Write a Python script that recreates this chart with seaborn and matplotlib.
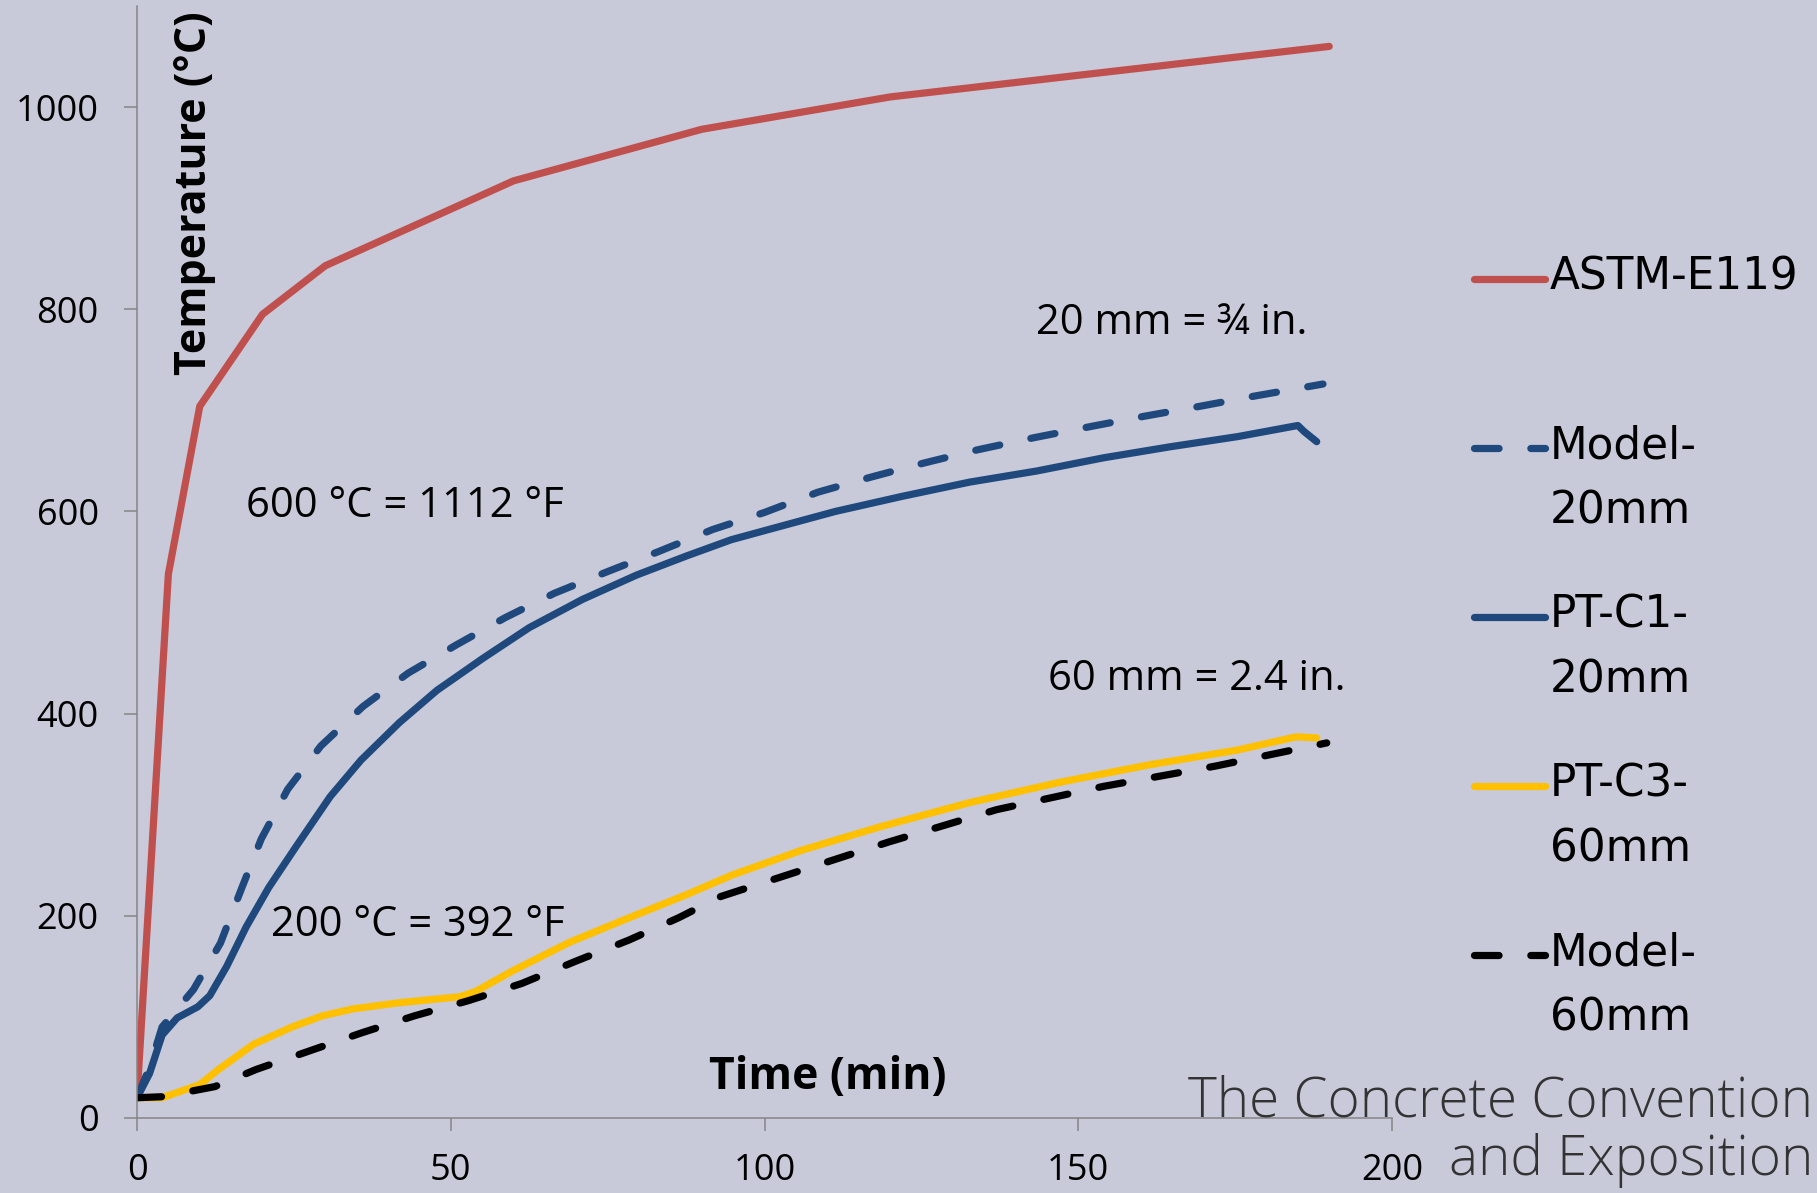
import numpy as np
import pandas as pd
import seaborn as sns
import matplotlib.pyplot as plt

# series (time in min, temperature in deg C)
series_names = ["ASTM-E119", "Model-20mm", "PT-C1-20mm", "PT-C3-60mm", "Model-60mm"]
legend_labels = ["ASTM-E119\n ", "Model-\n20mm", "PT-C1-\n20mm", "PT-C3-\n60mm", "Model-\n60mm"]

astm_t = [0, 5, 10, 20, 30, 60, 90, 120, 190]
astm_T = [20, 538, 704, 795, 843, 927, 978, 1010, 1060]

model20_t = [0, 2, 4, 9, 13.3, 16.6, 19.8, 24, 29.3, 36, 43.2, 50.9, 58.7, 66.5, 74.8, 83,
             91.7, 100, 108.5, 117, 125.5, 134, 143, 152, 160.4, 169.4, 178, 189]
model20_T = [20, 50, 90, 127, 173, 226, 276, 325, 368, 407, 440, 468, 495, 519, 540, 560,
             582, 599, 619, 634, 648, 661, 673, 684, 694, 704, 714, 726]

c1_t = [0, 2, 4, 6.4, 9.7, 11.6, 14.3, 17.4, 21, 25.3, 30.8, 35.7, 41.8, 47.8, 55.2, 62.5,
        71, 79.6, 87.6, 94.7, 100.6, 111.3, 122, 132.7, 143.4, 154, 164.7, 175.4, 185, 186, 188]
c1_T = [20, 44, 82, 99, 110, 121, 150, 189, 228, 268, 318, 354, 391, 423, 455, 485,
        513, 537, 556, 572, 582, 600, 615, 629, 640, 653, 664, 674, 685, 679, 669]

c3_t = [0, 4, 10, 13, 18.6, 24.7, 29.5, 34.5, 41.8, 51.5, 53.9, 60, 69, 78.4, 87.6, 94.7,
        106, 118.4, 132.7, 147, 161, 175.4, 184.7, 188]
c3_T = [20, 20, 33, 48, 73, 90, 101, 108, 114, 120, 125, 146, 174, 198, 221, 240,
        265, 288, 312, 332, 349, 364, 377, 376]

model60_t = [0, 4, 12.4, 19, 27.8, 35.7, 44.2, 52.8, 61.3, 69.9, 78.4, 86.3, 93,
             119.8, 137, 154, 171.8, 189.6]
model60_T = [20, 21, 31, 48, 67, 84, 101, 116, 133, 155, 176, 198, 219,
             273, 305, 328, 348, 371]

x_ticks = [0, 50, 100, 150, 200]
y_ticks = [0, 200, 400, 600, 800, 1000]

colors = {"ASTM-E119": "#C0504D", "Model-20mm": "#1F497D", "PT-C1-20mm": "#1F497D",
          "PT-C3-60mm": "#FFC000", "Model-60mm": "#000000"}
dashes = {"ASTM-E119": "", "Model-20mm": (3.4, 4.4), "PT-C1-20mm": "",
          "PT-C3-60mm": "", "Model-60mm": (3.4, 4.4)}

frames = []
for name, t, T in zip(series_names,
                      [astm_t, model20_t, c1_t, c3_t, model60_t],
                      [astm_T, model20_T, c1_T, c3_T, model60_T]):
    frames.append(pd.DataFrame({"time": t, "temp": T, "series": name}))
df = pd.concat(frames, ignore_index=True)

sns.set_style("ticks")
plt.rcParams["font.family"] = ["Open Sans", "DejaVu Sans"]
plt.rcParams["text.color"] = "black"
plt.rcParams["axes.labelcolor"] = "black"
bg = "#C8CAD9"
grey = "#868686"
lw = 5.2

fig = plt.figure(figsize=(18.17, 11.93), dpi=100, facecolor=bg)
ax = fig.add_axes([0.0754, 0.0629, 0.6907, 0.9321])
ax.set_facecolor(bg)

sns.lineplot(data=df, x="time", y="temp", hue="series", style="series",
             hue_order=series_names, style_order=series_names,
             palette=colors, dashes=dashes, estimator=None, sort=False,
             linewidth=lw, dash_capstyle="round", solid_capstyle="round",
             solid_joinstyle="round", ax=ax)
for line in ax.lines:
    line.set_linewidth(lw)

ax.set_xlim(0, 200)
ax.set_ylim(0, 1100)
ax.set_xticks(x_ticks)
ax.set_yticks(y_ticks)
for s in ["top", "right"]:
    ax.spines[s].set_visible(False)
for s in ["left", "bottom"]:
    ax.spines[s].set_color(grey)
    ax.spines[s].set_linewidth(1.1)
ax.tick_params(axis="both", colors=grey, length=9.5, width=1.1, labelsize=26,
               labelcolor="black")
ax.tick_params(axis="y", pad=18)
ax.tick_params(axis="x", pad=16)

ax.set_xlabel("Time (min)", fontsize=32, fontweight="bold")
ax.set_ylabel("Temperature (°C)", fontsize=31, fontweight="bold")
ax.xaxis.set_label_coords(0.5506, 0.036)
ax.xaxis.label.set_va("center")
ax.yaxis.set_label_coords(0.046, 0.832)
ax.yaxis.label.set_va("center")

ax.text(17.4, 605, "600 °C = 1112 °F", fontsize=30, va="center", ha="left")
ax.text(21.4, 191, "200 °C = 392 °F", fontsize=30, va="center", ha="left")
ax.text(143.2, 786, "20 mm = ¾ in.", fontsize=30, va="center", ha="left")
ax.text(145.1, 434, "60 mm = 2.4 in.", fontsize=30, va="center", ha="left")

leg = ax.legend(handles=ax.lines[:5], labels=legend_labels,
                loc="upper left", bbox_to_anchor=(0.8112, 0.7858),
                bbox_transform=fig.transFigure, frameon=False,
                prop={"family": "DejaVu Sans", "size": 31.5},
                handlelength=1.62, handletextpad=0.12, labelspacing=1.40,
                borderpad=0, borderaxespad=0)
for txt in leg.get_texts():
    txt.set_linespacing(1.64)
    txt.set_color("black")
for h in leg.legend_handles:
    h.set_ydata(np.asarray(h.get_ydata()) + 23.4)

fig.text(1813 / 1817, 1 - 1102 / 1193, "The Concrete Convention", fontsize=39.5,
         color="#333333", ha="right", va="center", fontweight="light")
fig.text(1813 / 1817, 1 - 1160 / 1193, "and Exposition", fontsize=39.5,
         color="#333333", ha="right", va="center", fontweight="light")

fig.savefig("out.png", dpi=100, facecolor=bg)
